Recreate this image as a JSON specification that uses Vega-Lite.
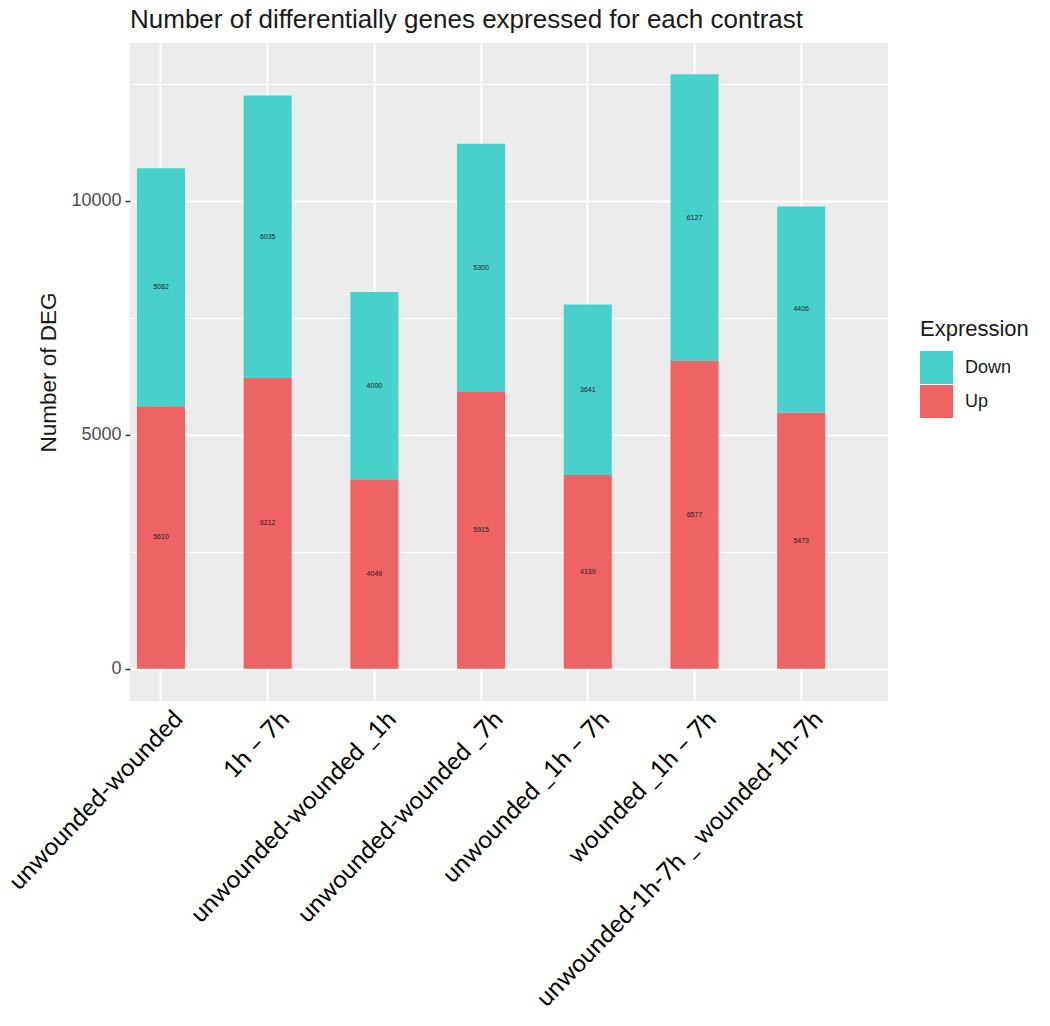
{
  "$schema": "https://vega.github.io/schema/vega-lite/v6.json",
  "autosize": {"type": "none"},
  "padding": {"left": 130, "top": 43, "right": 162, "bottom": 325},
  "width": 758,
  "height": 658,
  "background": "white",
  "title": {
    "text": "Number of differentially genes expressed for each contrast",
    "anchor": "start",
    "frame": "group",
    "font": "Liberation Sans",
    "fontSize": 26,
    "fontWeight": "normal",
    "color": "#1a1a1a",
    "offset": 10
  },
  "config": {
    "view": {"fill": "#EBEBEB", "stroke": null}
  },
  "data": {
    "values": [
      {"contrast": "unwounded-wounded", "Expression": "Up", "count": 5610},
      {"contrast": "unwounded-wounded", "Expression": "Down", "count": 5082},
      {"contrast": "1h – 7h", "Expression": "Up", "count": 6212},
      {"contrast": "1h – 7h", "Expression": "Down", "count": 6035},
      {"contrast": "unwounded-wounded _1h", "Expression": "Up", "count": 4049},
      {"contrast": "unwounded-wounded _1h", "Expression": "Down", "count": 4000},
      {"contrast": "unwounded-wounded _7h", "Expression": "Up", "count": 5915},
      {"contrast": "unwounded-wounded _7h", "Expression": "Down", "count": 5300},
      {"contrast": "unwounded _1h – 7h", "Expression": "Up", "count": 4139},
      {"contrast": "unwounded _1h – 7h", "Expression": "Down", "count": 3641},
      {"contrast": "wounded _1h – 7h", "Expression": "Up", "count": 6577},
      {"contrast": "wounded _1h – 7h", "Expression": "Down", "count": 6127},
      {"contrast": "unwounded-1h-7h _ wounded-1h-7h", "Expression": "Up", "count": 5473},
      {"contrast": "unwounded-1h-7h _ wounded-1h-7h", "Expression": "Down", "count": 4406}
    ]
  },
  "encoding": {
    "x": {
      "field": "contrast",
      "type": "nominal",
      "sort": null,
      "scale": {"paddingInner": 0.55, "paddingOuter": 0.327, "align": 0.1},
      "axis": {
        "title": null,
        "domain": false,
        "ticks": false,
        "grid": true,
        "gridColor": "white",
        "gridWidth": 2,
        "bandPosition": 0.5,
        "labelAngle": -46,
        "labelAlign": "right",
        "labelBaseline": "middle",
        "labelFont": "Lato",
        "labelFontSize": 24.5,
        "labelColor": "black",
        "labelPadding": 14,
        "labelOffset": 18,
        "labelLimit": 0
      }
    },
    "order": {"field": "Expression", "sort": "descending"}
  },
  "layer": [
    {
      "mark": {"type": "bar"},
      "encoding": {
        "y": {
          "field": "count",
          "type": "quantitative",
          "stack": "zero",
          "scale": {"domain": [-690, 13370], "nice": false, "zero": false},
          "axis": {
            "title": "Number of DEG",
            "titleFont": "Liberation Sans",
            "titleFontSize": 22.5,
            "titleFontWeight": "normal",
            "titleColor": "#1a1a1a",
            "titlePadding": 10,
            "values": [0, 5000, 10000],
            "format": "d",
            "domain": false,
            "tickSize": 5,
            "tickColor": "#333333",
            "tickWidth": 1.5,
            "labelFont": "Liberation Sans",
            "labelFontSize": 18,
            "labelColor": "#4D4D4D",
            "labelPadding": 4,
            "grid": true,
            "gridColor": "white",
            "gridWidth": 2
          }
        },
        "color": {
          "field": "Expression",
          "type": "nominal",
          "scale": {"domain": ["Down", "Up"], "range": ["#48D1CC", "#EE6363"]},
          "legend": {
            "title": "Expression",
            "orient": "none",
            "legendX": 790,
            "legendY": 276,
            "titleFont": "Liberation Sans",
            "titleFontSize": 22,
            "titleFontWeight": "normal",
            "titleColor": "#1a1a1a",
            "titlePadding": 10,
            "labelFont": "Liberation Sans",
            "labelFontSize": 18,
            "labelColor": "#1a1a1a",
            "labelOffset": 12,
            "symbolType": "square",
            "symbolSize": 1089,
            "symbolStrokeWidth": 0,
            "rowPadding": 1
          }
        }
      }
    },
    {
      "mark": {"type": "text", "font": "Liberation Sans", "fontSize": 7, "color": "#222222"},
      "encoding": {
        "y": {
          "field": "count",
          "type": "quantitative",
          "stack": "zero",
          "bandPosition": 0.5,
          "axis": {
            "title": null,
            "values": [2500, 7500, 12500],
            "labels": false,
            "ticks": false,
            "domain": false,
            "grid": true,
            "gridColor": "white",
            "gridWidth": 1
          }
        },
        "detail": {"field": "Expression"},
        "text": {"field": "count", "type": "quantitative"}
      }
    }
  ],
  "resolve": {"axis": {"y": "independent"}}
}
